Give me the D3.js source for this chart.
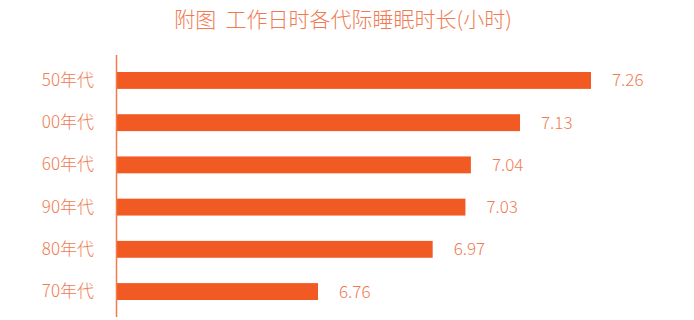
<!DOCTYPE html>
<html>
<head>
<meta charset="utf-8">
<script src="https://cdn.jsdelivr.net/npm/d3@7"></script>
<style>
  body { margin: 0; background: #fff; }
  svg { display: block; font-family: "Noto Sans CJK SC", "Noto Sans", sans-serif; }
</style>
</head>
<body>
<script>
// data
const generations = ["50年代", "00年代", "60年代", "90年代", "80年代", "70年代"];
const hours = [7.26, 7.13, 7.04, 7.03, 6.97, 6.76];
const title = "附图  工作日时各代际睡眠时长(小时)";

const width = 694;
const height = 320;
const margin = { top: 72, right: 103, bottom: 20, left: 116 };

const barColor = "#f15a22";
const textColor = "#f07b52";

const svg = d3
  .select("body")
  .append("svg")
  .attr("width", width)
  .attr("height", height);

// title
svg
  .append("text")
  .text(title)
  .attr("x", 343)
  .attr("y", 27)
  .attr("text-anchor", "middle")
  .attr("font-size", 21)
  .attr("font-weight", 300)
  .attr("fill", textColor)
  .style("white-space", "pre");

// the axis does not start at 0
const x = d3
  .scaleLinear()
  .domain([6.39, 7.26])
  .range([margin.left, width - margin.right]);

const y = d3
  .scaleBand()
  .domain(generations)
  .range([margin.top, height - margin.bottom])
  .paddingInner(0.6)
  .paddingOuter(0);

const data = generations.map((g, i) => ({ name: g, value: hours[i] }));

// bars
svg
  .selectAll("rect.bar")
  .data(data)
  .enter()
  .append("rect")
  .attr("class", "bar")
  .attr("x", x(6.39))
  .attr("y", (d) => y(d.name))
  .attr("width", (d) => x(d.value) - x(6.39))
  .attr("height", y.bandwidth())
  .attr("fill", barColor);

// value labels
svg
  .selectAll("text.value")
  .data(data)
  .enter()
  .append("text")
  .attr("class", "value")
  .text((d) => d.value.toFixed(2))
  .attr("x", (d) => x(d.value) + 21)
  .attr("y", (d) => y(d.name) + y.bandwidth() / 2)
  .attr("dy", "0.35em")
  .attr("font-size", 17)
  .attr("font-weight", 300)
  .attr("fill", textColor);

// category axis
const yAxis = d3.axisLeft(y).tickSize(0).tickPadding(22);
const g = svg
  .append("g")
  .attr("transform", `translate(${margin.left},0)`)
  .call(yAxis);

g.select(".domain").remove();
g.selectAll("text")
  .attr("font-size", 17)
  .attr("font-weight", 300)
  .attr("font-family", '"Noto Sans CJK SC", sans-serif')
  .attr("fill", textColor);

svg
  .append("line")
  .attr("x1", margin.left + 0.5)
  .attr("x2", margin.left + 0.5)
  .attr("y1", 55)
  .attr("y2", 317)
  .attr("stroke", "#f47a48")
  .attr("stroke-width", 1.5);
</script>
</body>
</html>
